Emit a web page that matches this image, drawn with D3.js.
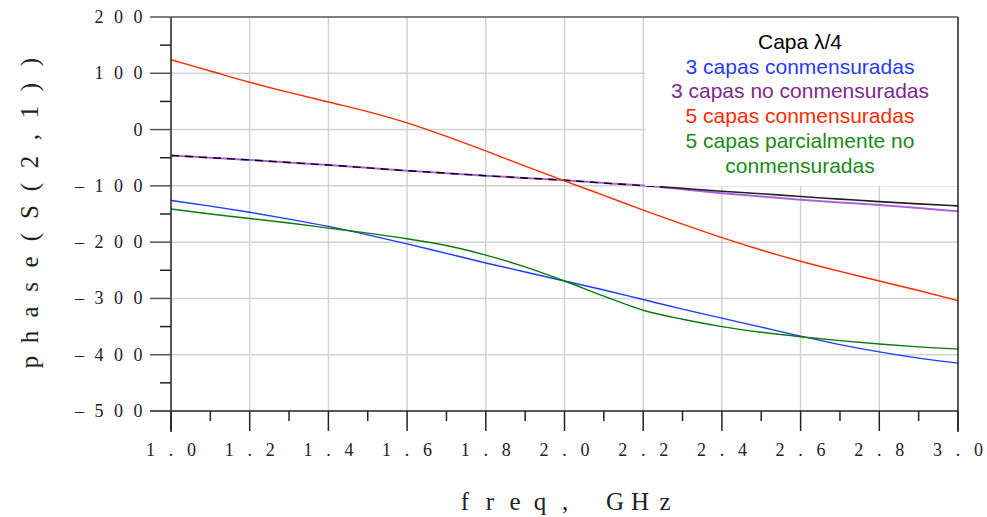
<!DOCTYPE html>
<html>
<head>
<meta charset="utf-8">
<script src="https://cdn.jsdelivr.net/npm/d3@7"></script>
<style>
  html, body { margin: 0; padding: 0; background: #fff; }
  svg { display: block; }
</style>
</head>
<body>
<svg id="chart" width="987" height="517"></svg>
<script>
// ---- data ----
const freq = [1.0, 1.1, 1.2, 1.3, 1.4, 1.5, 1.6, 1.7, 1.8, 1.9, 2.0, 2.1, 2.2, 2.3, 2.4, 2.5, 2.6, 2.7, 2.8, 2.9, 3.0];
const tresConm   = [-126, -136, -147, -159, -172, -187, -203, -220, -237, -253, -269, -285, -302, -319, -335, -351, -367, -382, -395, -406, -415];
const tresNoConm = [-46, -50, -54, -58.5, -63, -68, -73, -77.5, -82, -86, -90, -95, -99.5, -106, -113, -119, -124.5, -129.5, -134, -139.5, -145];
const cincoConm  = [124, 104, 84, 66, 49, 32, 12, -12, -38, -65, -91, -117, -143, -168, -192, -214, -234, -252, -269, -286, -304];
const cincoParc  = [-141, -150, -158, -166, -175, -184, -194, -206, -223, -244, -269, -296, -321, -337, -350, -360, -368, -375, -381, -386, -390];
const referencia = [-46, -50, -54, -58.5, -63, -68, -73, -77.5, -82, -86, -90, -95, -99.5, -104.5, -109.5, -114, -119, -123.5, -128, -132, -135.5];

const xTicks = [1.0, 1.2, 1.4, 1.6, 1.8, 2.0, 2.2, 2.4, 2.6, 2.8, 3.0];
const xMinor = [1.1, 1.3, 1.5, 1.7, 1.9, 2.1, 2.3, 2.5, 2.7, 2.9];
const yTicks = [200, 100, 0, -100, -200, -300, -400, -500];
const yMinor = [150, 50, -50, -150, -250, -350, -450];

const legendTitle = "Capa \u03BB/4";
const legendLines = ["3 capas conmensuradas", "3 capas no conmensuradas", "5 capas conmensuradas", "5 capas parcialmente no", "conmensuradas"];
const legendColors = ["#1f3cff", "#80288c", "#ff2a00", "#1a8a1a", "#1a8a1a"];

const xTitle = "freq, GHz";
const yTitle = "phase(S(2,1))";

// ---- layout ----
const svg = d3.select("#chart");
const L = 171, R = 958, T = 17, B = 411;
const x = d3.scaleLinear().domain([1, 3]).range([L, R]);
const y = d3.scaleLinear().domain([-500, 200]).range([B, T]);
const serif = "'Liberation Serif', 'DejaVu Serif', serif";

// place each character of a string in fixed-width slots (centres)
function slotText(g, str, firstCentre, adv, baseline, size, rotate) {
  const chars = str.split("");
  chars.forEach((c, i) => {
    if (c === " ") return;
    const pos = firstCentre + i * adv;
    const t = g.append("text").attr("text-anchor", "middle")
      .attr("font-family", serif).attr("font-size", size).attr("fill", "#222").text(c);
    if (rotate) t.attr("transform", `translate(${baseline},${pos}) rotate(-90)`);
    else t.attr("x", pos).attr("y", baseline);
  });
}

// grid
const grid = svg.append("g").attr("stroke", "#d2d2d2").attr("stroke-width", 1.5);
grid.selectAll("line.gx").data(xTicks.slice(1, -1)).enter().append("line")
  .attr("x1", d => x(d)).attr("x2", d => x(d)).attr("y1", T).attr("y2", B);
grid.selectAll("line.gy").data(yTicks.slice(1, -1)).enter().append("line")
  .attr("x1", L).attr("x2", R).attr("y1", d => y(d)).attr("y2", d => y(d));

// clip paths for the black line (dashed where overlapping, solid after)
const defs = svg.append("defs");
defs.append("clipPath").attr("id", "clipLeft").append("rect")
  .attr("x", L).attr("y", T).attr("width", x(2.25) - L).attr("height", B - T);
defs.append("clipPath").attr("id", "clipRight").append("rect")
  .attr("x", x(2.25)).attr("y", T).attr("width", R - x(2.25)).attr("height", B - T);

const line = d3.line().x((d, i) => x(freq[i])).y(d => y(d)).curve(d3.curveMonotoneX);

const lines = svg.append("g").attr("fill", "none");
lines.append("path").attr("d", line(tresNoConm)).attr("stroke", "#b060e0").attr("stroke-width", 2);
lines.append("path").attr("d", line(referencia)).attr("stroke", "#000").attr("stroke-width", 1.4)
  .attr("stroke-dasharray", "8,6").attr("clip-path", "url(#clipLeft)");
lines.append("path").attr("d", line(referencia)).attr("stroke", "#222").attr("stroke-width", 1.6)
  .attr("clip-path", "url(#clipRight)");
lines.append("path").attr("d", line(cincoConm)).attr("stroke", "#ff2a00").attr("stroke-width", 1.4);
lines.append("path").attr("d", line(tresConm)).attr("stroke", "#1a3cff").attr("stroke-width", 1.4);
lines.append("path").attr("d", line(cincoParc)).attr("stroke", "#0a7a0a").attr("stroke-width", 1.4);

// legend box
svg.append("rect").attr("x", x(2.2) + 2).attr("y", T + 1).attr("width", R - x(2.2) - 2)
  .attr("height", 186 - T - 1).attr("fill", "#fff");
const leg = svg.append("g").attr("font-family", "'Liberation Sans', Arial, sans-serif")
  .attr("font-size", 21).attr("text-anchor", "middle");
leg.append("text").attr("x", 800).attr("y", 49).attr("fill", "#000").text(legendTitle);
leg.selectAll("text.l").data(legendLines).enter().append("text")
  .attr("x", 800).attr("y", (d, i) => 49 + (i + 1) * 24.7)
  .attr("fill", (d, i) => legendColors[i]).text(d => d);

// axes frame
const ax = svg.append("g").attr("stroke", "#222").attr("stroke-width", 1.5);
ax.append("line").attr("x1", L).attr("x2", L).attr("y1", T).attr("y2", B + 21);
ax.append("line").attr("x1", L - 21).attr("x2", R).attr("y1", B).attr("y2", B);
ax.append("line").attr("x1", L).attr("x2", R).attr("y1", T).attr("y2", T).attr("stroke", "#555");
ax.append("line").attr("x1", R).attr("x2", R).attr("y1", T).attr("y2", B + 21);

// y ticks
ax.selectAll("line.ym").data(yTicks).enter().append("line")
  .attr("x1", L - 21).attr("x2", L).attr("y1", d => y(d)).attr("y2", d => y(d)).attr("stroke", "#555");
ax.selectAll("line.yn").data(yMinor).enter().append("line")
  .attr("x1", L - 11).attr("x2", L).attr("y1", d => y(d)).attr("y2", d => y(d));
// x ticks
ax.selectAll("line.xm").data(xTicks).enter().append("line")
  .attr("x1", d => x(d)).attr("x2", d => x(d)).attr("y1", B).attr("y2", B + 20);
ax.selectAll("line.xn").data(xMinor).enter().append("line")
  .attr("x1", d => x(d)).attr("x2", d => x(d)).attr("y1", B).attr("y2", B + 10);

// tick labels
const tl = svg.append("g");
yTicks.forEach(d => {
  const s = (d < 0 ? "\u2013" : "") + String(Math.abs(d));
  const adv = 19.5;
  slotText(tl, s, 138 - (s.length - 1) * adv, adv, y(d) + 6, 18, false);
});
xTicks.forEach(d => {
  const s = d3.format(".1f")(d);
  const adv = 20.5;
  slotText(tl, s, x(d) - adv, adv, 456, 18, false);
});

// axis titles
slotText(svg.append("g"), xTitle, 465, 25, 510, 25, false);
// rotated: first character at the bottom, going up
(function () {
  const g = svg.append("g");
  const chars = yTitle.split("");
  chars.forEach((c, i) => {
    g.append("text").attr("text-anchor", "middle")
      .attr("font-family", serif).attr("font-size", 25).attr("fill", "#222")
      .attr("transform", `translate(38,${362 - i * 25}) rotate(-90)`).text(c);
  });
})();
</script>
</body>
</html>
